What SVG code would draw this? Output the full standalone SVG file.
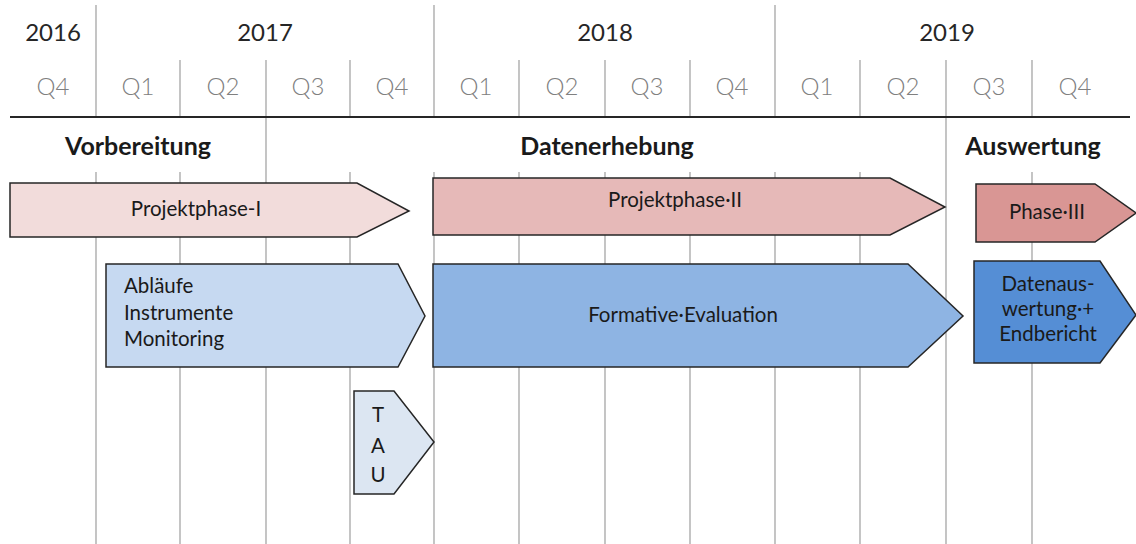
<svg xmlns="http://www.w3.org/2000/svg" width="1136" height="544" viewBox="0 0 1136 544">
<style>
.grid{stroke:#a6a6a6;stroke-width:1.3;fill:none}
.axis{stroke:#262626;stroke-width:2}
.year{font-family:Lato,"Open Sans",sans-serif;font-size:24px;fill:#262626;text-anchor:middle}
.qtr{font-family:Lato,"Open Sans",sans-serif;font-weight:300;font-size:24px;fill:#808080;text-anchor:middle}
.head{font-family:Lato,"Open Sans",sans-serif;font-weight:bold;font-size:25px;fill:#1a1a1a;text-anchor:middle}
.box{stroke:#262626;stroke-width:1.5}
.lbl{font-family:Lato,"Open Sans",sans-serif;font-size:20.5px;fill:#1a1a1a;text-anchor:middle}
.lbll{font-family:Lato,"Open Sans",sans-serif;font-size:20.5px;fill:#1a1a1a}
</style>
<rect width="1136" height="544" fill="#ffffff"/>
<g id="grid">
<path class="grid" d="M96,5V117M96,172V544M434,5V117M434,172V544M775,5V117M775,172V544"/>
<path class="grid" d="M180,60V117M180,172V544M350,60V117M350,172V544M519,60V117M519,172V544M605,60V117M605,172V544M690,60V117M690,172V544M860,60V117M860,172V544M1032,60V117M1032,172V544"/>
<path class="grid" d="M266,60V544M946,60V544"/>
<line class="axis" x1="10" y1="117" x2="1130" y2="117"/>
</g>
<g id="years">
<text class="year" x="53" y="41">2016</text>
<text class="year" x="265" y="41">2017</text>
<text class="year" x="605" y="41">2018</text>
<text class="year" x="947" y="41">2019</text>
</g>
<g id="quarters">
<text class="qtr" x="53" y="95">Q4</text>
<text class="qtr" x="138" y="95">Q1</text>
<text class="qtr" x="223" y="95">Q2</text>
<text class="qtr" x="308" y="95">Q3</text>
<text class="qtr" x="392" y="95">Q4</text>
<text class="qtr" x="476" y="95">Q1</text>
<text class="qtr" x="562" y="95">Q2</text>
<text class="qtr" x="647" y="95">Q3</text>
<text class="qtr" x="732" y="95">Q4</text>
<text class="qtr" x="817" y="95">Q1</text>
<text class="qtr" x="903" y="95">Q2</text>
<text class="qtr" x="989" y="95">Q3</text>
<text class="qtr" x="1075" y="95">Q4</text>
</g>
<g id="headings">
<text class="head" x="138" y="155">Vorbereitung</text>
<text class="head" x="607" y="155">Datenerhebung</text>
<text class="head" x="1033" y="155">Auswertung</text>
</g>
<g id="projektphase1">
<polygon class="box" fill="#F2DCDB" points="10,183 357,183 409,211 357,237 10,237"/>
<text class="lbl" x="196" y="216">Projektphase-I</text>
</g>
<g id="projektphase2">
<polygon class="box" fill="#E6B9B8" points="433,178 890,178 945,207 890,235 433,235"/>
<text class="lbl" x="675" y="207">Projektphase·II</text>
</g>
<g id="phase3">
<polygon class="box" fill="#D99694" points="976,184 1095,184 1136,213 1095,242 976,242"/>
<text class="lbl" x="1047" y="219">Phase·III</text>
</g>
<g id="ablaeufe">
<polygon class="box" fill="#C6D9F1" points="106,264 398,264 425,316 398,367 106,367"/>
<text class="lbll" x="124" y="293">Abläufe</text>
<text class="lbll" x="124" y="320">Instrumente</text>
<text class="lbll" x="124" y="346">Monitoring</text>
</g>
<g id="formative">
<polygon class="box" fill="#8EB4E3" points="433,264 908,264 963,316 908,367 433,367"/>
<text class="lbl" x="683" y="322">Formative·Evaluation</text>
</g>
<g id="datenauswertung">
<polygon class="box" fill="#558ED5" points="974,261 1100,261 1136,315 1100,363 974,363"/>
<text class="lbl" x="1048" y="291">Datenaus-</text>
<text class="lbl" x="1048" y="316">wertung·+</text>
<text class="lbl" x="1048" y="341">Endbericht</text>
</g>
<g id="tau">
<polygon class="box" fill="#DCE6F2" points="354,391 394,391 434,442 394,494 354,494"/>
<text class="lbl" x="378" y="422">T</text>
<text class="lbl" x="378" y="453">A</text>
<text class="lbl" x="378" y="482">U</text>
</g>
<g id="connectors"></g>
</svg>
